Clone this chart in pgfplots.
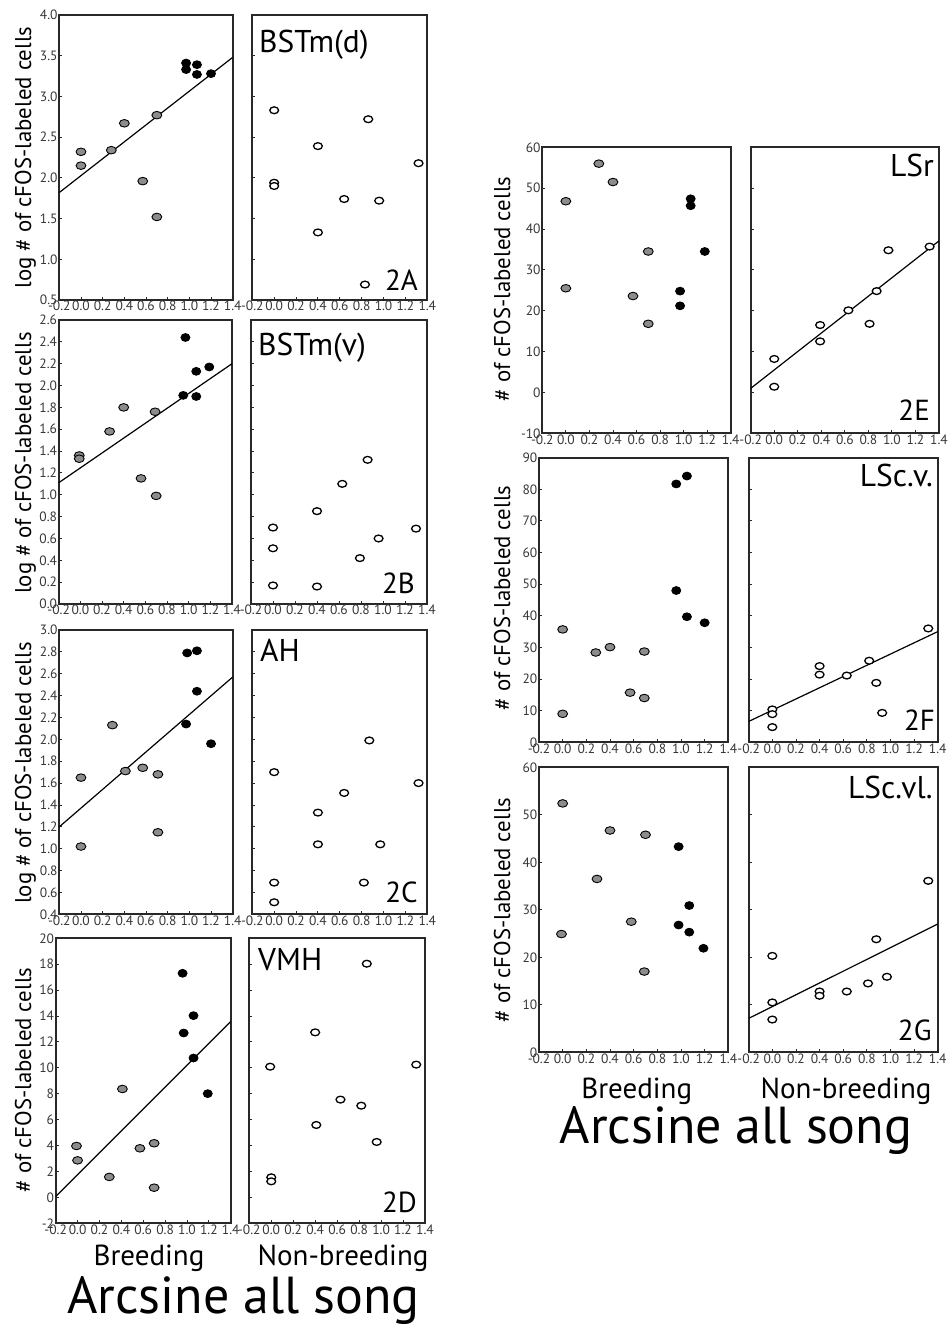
\documentclass[border=0pt]{standalone}
\usepackage{fontspec}
\setmainfont{PT Sans}
\usepackage{pgfplots}
\pgfplotsset{compat=1.18}
\definecolor{mgray}{RGB}{140,140,140}
\definecolor{framec}{RGB}{40,40,40}
\definecolor{tickc}{RGB}{55,55,55}
\pgfplotsset{
 panel/.style={scale only axis, anchor=north west, xmin=-0.2, xmax=1.4,
  xtick={-0.2,0,0.2,0.4,0.6,0.8,1,1.2,1.4},
  tick align=inside, xtick pos=bottom, ytick pos=left, major tick length=3pt,
  axis line style={line width=1.8pt, draw=framec},
  tick style={line width=0.9pt, draw=framec},
  tick label style={font=\fontsize{13.5}{13.5}\selectfont, text=tickc},
  /pgf/number format/assume math mode=true,
  xticklabel style={/pgf/number format/fixed, /pgf/number format/fixed zerofill, /pgf/number format/precision=1, inner sep=1pt},
  yticklabel style={inner sep=1.5pt},
 },
 ydec/.style={yticklabel style={/pgf/number format/fixed, /pgf/number format/fixed zerofill, /pgf/number format/precision=1}},
 noyl/.style={yticklabels={}},
 br/.style={only marks, mark=*, mark size=3.8pt, mark options={fill=mgray, draw=black, line width=0.9pt, xscale=1.3}},
 bk/.style={only marks, mark=*, mark size=3.9pt, mark options={fill=black, draw=black, line width=0.9pt, xscale=1.15}},
 nb/.style={only marks, mark=*, mark size=3.4pt, mark options={fill=white, draw=black, line width=1.3pt, xscale=1.3}},
 fit/.style={no marks, line width=1.2pt, black},
}
\newcommand\ylfont{\fontsize{22.8}{22.8}\selectfont}
\newcommand\pnfont{\fontsize{31.5}{31.5}\selectfont}
\newcommand\nmfont{\fontsize{29}{29}\selectfont}
\newcommand\grfont{\fontsize{29}{29}\selectfont}
\newcommand\bigfont{\fontsize{52}{52}\selectfont}
\begin{document}
\begin{tikzpicture}
\path[use as bounding box] (0pt,0pt) rectangle (951pt,-1328pt);
% ---------------- 2A ----------------
\begin{axis}[panel, ydec, at={(59.3pt,-15pt)}, width=173.4pt, height=285pt,
  ymin=0.5, ymax=4.0, ytick={0.5,1,1.5,2,2.5,3,3.5,4}]
\addplot[fit] coordinates {(-0.2,1.82) (1.4,3.48)};
\addplot[br] coordinates {(0,2.32) (0,2.15) (0.28,2.34) (0.40,2.67) (0.57,1.96) (0.70,2.77) (0.70,1.52)};
\addplot[bk] coordinates {(0.97,3.41) (0.97,3.33) (1.07,3.39) (1.07,3.27) (1.20,3.28)};
\end{axis}
\begin{axis}[panel, noyl, at={(252.3pt,-15pt)}, width=175pt, height=285pt,
  ymin=0.5, ymax=4.0, ytick={0.5,1,1.5,2,2.5,3,3.5,4}]
\addplot[nb] coordinates {(0,2.83) (0,1.94) (0,1.90) (0.40,2.39) (0.40,1.33) (0.64,1.74) (0.86,2.72) (0.96,1.72) (0.83,0.69) (1.32,2.18)};
\end{axis}
% ---------------- 2B ----------------
\begin{axis}[panel, ydec, at={(58.7pt,-320pt)}, width=173.3pt, height=284pt,
  ymin=0, ymax=2.6, ytick={0,0.2,0.4,0.6,0.8,1,1.2,1.4,1.6,1.8,2,2.2,2.4,2.6}]
\addplot[fit] coordinates {(-0.2,1.11) (1.4,2.20)};
\addplot[br] coordinates {(-0.01,1.36) (-0.01,1.33) (0.27,1.58) (0.40,1.80) (0.56,1.15) (0.69,1.76) (0.70,0.99)};
\addplot[bk] coordinates {(0.97,2.44) (0.95,1.91) (1.07,2.13) (1.07,1.90) (1.19,2.17)};
\end{axis}
\begin{axis}[panel, noyl, at={(251pt,-320pt)}, width=176pt, height=284pt,
  ymin=0, ymax=2.6, ytick={0,0.2,0.4,0.6,0.8,1,1.2,1.4,1.6,1.8,2,2.2,2.4,2.6}]
\addplot[nb] coordinates {(0,0.70) (0,0.51) (0,0.17) (0.40,0.85) (0.40,0.16) (0.63,1.10) (0.86,1.32) (0.79,0.42) (0.96,0.60) (1.30,0.69)};
\end{axis}
% ---------------- 2C ----------------
\begin{axis}[panel, ydec, at={(59.3pt,-630pt)}, width=173.4pt, height=284.3pt,
  ymin=0.4, ymax=3.0, ytick={0.4,0.6,0.8,1,1.2,1.4,1.6,1.8,2,2.2,2.4,2.6,2.8,3}]
\addplot[fit] coordinates {(-0.2,1.20) (1.4,2.57)};
\addplot[br] coordinates {(0,1.65) (0,1.02) (0.29,2.13) (0.41,1.71) (0.57,1.74) (0.71,1.68) (0.71,1.15)};
\addplot[bk] coordinates {(0.98,2.79) (1.07,2.81) (1.07,2.44) (0.97,2.14) (1.20,1.96)};
\end{axis}
\begin{axis}[panel, noyl, at={(252.3pt,-630pt)}, width=175pt, height=284.3pt,
  ymin=0.4, ymax=3.0, ytick={0.4,0.6,0.8,1,1.2,1.4,1.6,1.8,2,2.2,2.4,2.6,2.8,3}]
\addplot[nb] coordinates {(0,1.70) (0,0.69) (0,0.51) (0.40,1.33) (0.40,1.04) (0.64,1.51) (0.87,1.99) (0.82,0.69) (0.97,1.04) (1.32,1.60)};
\end{axis}
% ---------------- 2D ----------------
\begin{axis}[panel, at={(55.7pt,-938.3pt)}, width=175pt, height=285pt,
  ymin=-2, ymax=20, ytick={-2,0,2,4,6,8,10,12,14,16,18,20}]
\addplot[fit] coordinates {(-0.2,0.06) (1.4,13.57)};
\addplot[br] coordinates {(-0.01,3.97) (0,2.86) (0.29,1.58) (0.41,8.37) (0.57,3.79) (0.70,4.18) (0.70,0.75)};
\addplot[bk] coordinates {(0.96,17.3) (0.97,12.69) (1.06,14.03) (1.06,10.76) (1.19,8.01)};
\end{axis}
\begin{axis}[panel, noyl, at={(249.3pt,-938.3pt)}, width=175.7pt, height=285pt,
  ymin=-2, ymax=20, ytick={-2,0,2,4,6,8,10,12,14,16,18,20}]
\addplot[nb] coordinates {(-0.01,10.09) (0,1.55) (0,1.24) (0.40,12.74) (0.41,5.59) (0.63,7.55) (0.87,18.04) (0.82,7.08) (0.96,4.28) (1.32,10.25)};
\end{axis}
% ---------------- 2E ----------------
\begin{axis}[panel, at={(542.3pt,-147.3pt)}, width=188.4pt, height=286pt,
  ymin=-10, ymax=60, ytick={-10,0,10,20,30,40,50,60}]
\addplot[br] coordinates {(0,46.8) (0,25.5) (0.28,56.0) (0.40,51.5) (0.57,23.6) (0.70,34.5) (0.70,16.8)};
\addplot[bk] coordinates {(1.06,47.4) (1.06,45.7) (1.18,34.5) (0.97,24.8) (0.97,21.2)};
\end{axis}
\begin{axis}[panel, noyl, at={(750.7pt,-147.3pt)}, width=188.3pt, height=286pt,
  ymin=-10, ymax=60, ytick={-10,0,10,20,30,40,50,60}]
\addplot[fit] coordinates {(-0.2,1.0) (1.4,37.1)};
\addplot[nb] coordinates {(0,8.2) (0,1.4) (0.39,16.5) (0.39,12.5) (0.63,20.1) (0.81,16.8) (0.87,24.8) (0.97,34.8) (1.32,35.7)};
\end{axis}
% ---------------- 2F ----------------
\begin{axis}[panel, at={(539pt,-457.7pt)}, width=189.3pt, height=284.6pt,
  ymin=0, ymax=90, ytick={0,10,20,30,40,50,60,70,80,90}]
\addplot[br] coordinates {(0,35.7) (0,9.0) (0.28,28.4) (0.40,30.1) (0.57,15.7) (0.69,28.7) (0.69,14.0)};
\addplot[bk] coordinates {(0.96,81.7) (1.05,84.2) (0.96,48.0) (1.05,39.7) (1.20,37.8)};
\end{axis}
\begin{axis}[panel, noyl, at={(748.7pt,-457.7pt)}, width=189pt, height=284.6pt,
  ymin=0, ymax=90, ytick={0,10,20,30,40,50,60,70,80,90}]
\addplot[fit] coordinates {(-0.2,6.6) (1.4,35.0)};
\addplot[nb] coordinates {(0,10.4) (0,8.9) (0,4.8) (0.40,24.1) (0.40,21.4) (0.63,21.1) (0.82,25.8) (0.88,18.8) (0.93,9.3) (1.32,36.0)};
\end{axis}
% ---------------- 2G ----------------
\begin{axis}[panel, at={(539pt,-767.3pt)}, width=189.3pt, height=285pt,
  ymin=0, ymax=60, ytick={0,10,20,30,40,50,60}]
\addplot[br] coordinates {(0,52.4) (-0.01,24.9) (0.29,36.5) (0.40,46.7) (0.58,27.5) (0.70,45.8) (0.69,17.0)};
\addplot[bk] coordinates {(0.98,43.3) (0.98,26.8) (1.07,30.9) (1.07,25.3) (1.19,21.9)};
\end{axis}
\begin{axis}[panel, noyl, at={(748.7pt,-767.3pt)}, width=189pt, height=285pt,
  ymin=0, ymax=60, ytick={0,10,20,30,40,50,60}]
\addplot[fit] coordinates {(-0.2,7.15) (1.4,27.0)};
\addplot[nb] coordinates {(0,20.3) (0,10.5) (0,6.9) (0.40,12.8) (0.40,11.9) (0.63,12.8) (0.81,14.5) (0.88,23.8) (0.97,15.9) (1.32,36.1)};
\end{axis}
% ---------------- texts ----------------
\node[rotate=90, anchor=base, font=\ylfont] at (31pt,-157.5pt) {log \# of cFOS-labeled cells};
\node[rotate=90, anchor=base, font=\ylfont] at (31pt,-463pt) {log \# of cFOS-labeled cells};
\node[rotate=90, anchor=base, font=\ylfont] at (31pt,-773pt) {log \# of cFOS-labeled cells};
\node[rotate=90, anchor=base, font=\ylfont] at (31pt,-1080pt) {\# of cFOS-labeled cells};
\node[rotate=90, anchor=base, font=\ylfont] at (510pt,-289pt) {\# of cFOS-labeled cells};
\node[rotate=90, anchor=base, font=\ylfont] at (510pt,-598pt) {\# of cFOS-labeled cells};
\node[rotate=90, anchor=base, font=\ylfont] at (510pt,-910pt) {\# of cFOS-labeled cells};
\node[anchor=base west, inner sep=0pt, font=\pnfont] at (259pt,-52pt) {BSTm(d)};
\node[anchor=base west, inner sep=0pt, font=\pnfont] at (258pt,-355pt) {BSTm(v)};
\node[anchor=base west, inner sep=0pt, font=\pnfont] at (260pt,-661.7pt) {AH};
\node[anchor=base west, inner sep=0pt, font=\pnfont] at (258pt,-970pt) {VMH};
\node[anchor=base east, inner sep=0pt, font=\pnfont] at (934pt,-176.7pt) {LSr};
\node[anchor=base east, inner sep=0pt, font=\pnfont] at (933pt,-486.7pt) {LSc.v.};
\node[anchor=base east, inner sep=0pt, font=\pnfont] at (932.7pt,-798pt) {LSc.vl.};
\node[anchor=base east, inner sep=0pt, font=\nmfont] at (418pt,-290pt) {2A};
\node[anchor=base east, inner sep=0pt, font=\nmfont] at (415pt,-593pt) {2B};
\node[anchor=base east, inner sep=0pt, font=\nmfont] at (418pt,-902pt) {2C};
\node[anchor=base east, inner sep=0pt, font=\nmfont] at (417pt,-1212.7pt) {2D};
\node[anchor=base east, inner sep=0pt, font=\nmfont] at (930pt,-420pt) {2E};
\node[anchor=base east, inner sep=0pt, font=\nmfont] at (935pt,-730pt) {2F};
\node[anchor=base east, inner sep=0pt, font=\nmfont] at (931.7pt,-1040pt) {2G};
\node[anchor=base, inner sep=0pt, font=\grfont] at (149pt,-1265pt) {Breeding};
\node[anchor=base, inner sep=0pt, font=\grfont] at (343pt,-1265pt) {Non-breeding};
\node[anchor=base, inner sep=0pt, font=\bigfont] at (243.5pt,-1313pt) {Arcsine all song};
\node[anchor=base, inner sep=0pt, font=\grfont] at (636.7pt,-1098pt) {Breeding};
\node[anchor=base, inner sep=0pt, font=\grfont] at (846pt,-1098pt) {Non-breeding};
\node[anchor=base, inner sep=0pt, font=\bigfont] at (736pt,-1143pt) {Arcsine all song};
\end{tikzpicture}
\end{document}
